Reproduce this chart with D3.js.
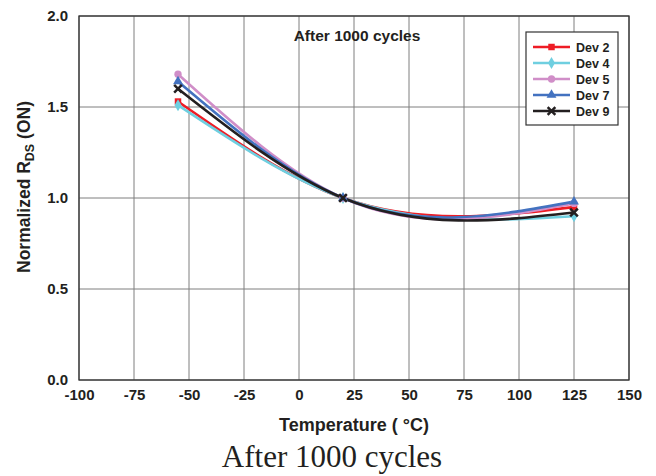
<!DOCTYPE html>
<html>
<head>
<meta charset="utf-8">
<script src="https://cdn.jsdelivr.net/npm/d3@7"></script>
<style>
  body { margin: 0; background: #fff; }
  text { font-family: 'Liberation Sans', Arial, sans-serif; }
  text.caption { font-family: 'Liberation Serif', 'Times New Roman', serif; }
</style>
</head>
<body>
<div id="chart"></div>
<script>
// Data
const temps = [-55, 20, 125];
const seriesNames = ['Dev 2', 'Dev 4', 'Dev 5', 'Dev 7', 'Dev 9'];
const dev2 = [1.53, 1.0, 0.95];
const dev4 = [1.51, 1.0, 0.90];
const dev5 = [1.68, 1.0, 0.97];
const dev7 = [1.64, 1.0, 0.98];
const dev9 = [1.60, 1.0, 0.92];
const xTicks = [-100, -75, -50, -25, 0, 25, 50, 75, 100, 125, 150];
const yTicks = [0, 0.5, 1.0, 1.5, 2.0];

const colors = ['#ee1c25', '#6fcfe0', '#d08ec8', '#4372c0', '#231f20'];
const markers = [d3.symbolSquare, d3.symbolDiamond, d3.symbolCircle, d3.symbolTriangle, d3.symbolX];
const values = [dev2, dev4, dev5, dev7, dev9];

const width = 656, height = 476;
const margin = { left: 79, right: 27, top: 16, bottom: 96 };
const iw = width - margin.left - margin.right;
const ih = height - margin.top - margin.bottom;

// smooth curve (natural spline with x as the parameter), like a spreadsheet smoothed line
function curveNaturalX(context) {
  let xs, ys;
  return {
    areaStart() {},
    areaEnd() {},
    lineStart() { xs = []; ys = []; },
    point(px, py) { xs.push(+px); ys.push(+py); },
    lineEnd() {
      const n = xs.length;
      if (!n) return;
      context.moveTo(xs[0], ys[0]);
      if (n === 2) { context.lineTo(xs[1], ys[1]); return; }
      const h = [];
      for (let i = 0; i < n - 1; i++) h[i] = xs[i + 1] - xs[i];
      const M = new Array(n).fill(0);
      const a = [], b = [], c = [], r = [];
      for (let i = 1; i < n - 1; i++) {
        a[i] = h[i - 1];
        b[i] = 2 * (h[i - 1] + h[i]);
        c[i] = h[i];
        r[i] = 6 * ((ys[i + 1] - ys[i]) / h[i] - (ys[i] - ys[i - 1]) / h[i - 1]);
      }
      for (let i = 2; i < n - 1; i++) {
        const w = a[i] / b[i - 1];
        b[i] -= w * c[i - 1];
        r[i] -= w * r[i - 1];
      }
      for (let i = n - 2; i >= 1; i--) {
        M[i] = (r[i] - c[i] * M[i + 1]) / b[i];
      }
      for (let i = 0; i < n - 1; i++) {
        const s = (ys[i + 1] - ys[i]) / h[i];
        const m0 = s - h[i] * (2 * M[i] + M[i + 1]) / 6;
        const m1 = s + h[i] * (M[i] + 2 * M[i + 1]) / 6;
        context.bezierCurveTo(
          xs[i] + h[i] / 3, ys[i] + m0 * h[i] / 3,
          xs[i + 1] - h[i] / 3, ys[i + 1] - m1 * h[i] / 3,
          xs[i + 1], ys[i + 1]);
      }
    }
  };
}

const svg = d3.select('#chart').append('svg')
  .attr('width', width)
  .attr('height', height);

const g = svg.append('g')
  .attr('transform', `translate(${margin.left},${margin.top})`);

const x = d3.scaleLinear().domain([-100, 150]).range([0, iw]);
const y = d3.scaleLinear().domain([0, 2]).range([ih, 0]);

// grid
g.append('g').selectAll('line')
  .data(xTicks)
  .join('line')
  .attr('x1', d => x(d)).attr('x2', d => x(d))
  .attr('y1', 0).attr('y2', ih)
  .attr('stroke', '#7f7f7f').attr('stroke-width', 1);

g.append('g').selectAll('line')
  .data(yTicks)
  .join('line')
  .attr('x1', 0).attr('x2', iw)
  .attr('y1', d => y(d)).attr('y2', d => y(d))
  .attr('stroke', '#7f7f7f').attr('stroke-width', 1);

// frame
g.append('rect')
  .attr('width', iw).attr('height', ih)
  .attr('fill', 'none')
  .attr('stroke', '#333').attr('stroke-width', 1.3);

// axes
const ax = d3.axisBottom(x).tickValues(xTicks).tickFormat(d => String(d)).tickSize(0).tickPadding(9);
const axCall = g.append('g').attr('transform', `translate(0,${ih})`).call(ax);
axCall.select('.domain').remove();
axCall.selectAll('text')
  .attr('font-size', '15px').attr('font-weight', 'bold').attr('fill', '#231f20');

const ay = d3.axisLeft(y).tickValues(yTicks).tickFormat(d3.format('.1f')).tickSize(0).tickPadding(11);
const ayCall = g.append('g').call(ay);
ayCall.select('.domain').remove();
ayCall.selectAll('text')
  .attr('font-size', '15px').attr('font-weight', 'bold').attr('fill', '#231f20');

// lines
const line = d3.line()
  .x((d, i) => x(temps[i]))
  .y(d => y(d))
  .curve(curveNaturalX);

values.forEach((vals, k) => {
  g.append('path')
    .attr('d', line(vals))
    .attr('fill', 'none')
    .attr('stroke', colors[k])
    .attr('stroke-width', 2.6);
});

values.forEach((vals, k) => {
  g.selectAll(null)
    .data(vals)
    .join('path')
    .attr('transform', (d, i) => `translate(${x(temps[i])},${y(d)})`)
    .attr('d', d3.symbol(markers[k], k === 4 ? 40 : 42))
    .attr('fill', colors[k])
    .attr('stroke', colors[k])
    .attr('stroke-width', k === 4 ? 2.5 : 0);
});

// inner title
g.append('text')
  .attr('x', 357 - margin.left).attr('y', 25)
  .attr('text-anchor', 'middle')
  .attr('font-size', '15.5px').attr('font-weight', 'bold')
  .attr('fill', '#231f20')
  .text('After 1000 cycles');

// legend
const lg = svg.append('g').attr('transform', 'translate(526,32)');
lg.append('rect')
  .attr('width', 92).attr('height', 93)
  .attr('fill', '#fff').attr('stroke', '#333').attr('stroke-width', 1.2);

seriesNames.forEach((name, k) => {
  const yy = 15 + k * 16;
  lg.append('line')
    .attr('x1', 7).attr('x2', 44)
    .attr('y1', yy).attr('y2', yy)
    .attr('stroke', colors[k]).attr('stroke-width', 2.6);
  lg.append('path')
    .attr('transform', `translate(25.5,${yy})`)
    .attr('d', d3.symbol(markers[k], k === 4 ? 40 : 42))
    .attr('fill', colors[k])
    .attr('stroke', colors[k])
    .attr('stroke-width', k === 4 ? 2.5 : 0);
  lg.append('text')
    .attr('x', 50).attr('y', yy + 4.5)
    .attr('font-size', '12.5px').attr('font-weight', 'bold')
    .attr('fill', '#231f20')
    .text(name);
});

// axis titles
svg.append('text')
  .attr('x', 354).attr('y', 431)
  .attr('text-anchor', 'middle')
  .attr('font-size', '18px').attr('font-weight', 'bold')
  .attr('fill', '#231f20')
  .text('Temperature ( °C)');

const yt = svg.append('text')
  .attr('transform', 'translate(30,187) rotate(-90)')
  .attr('text-anchor', 'middle')
  .attr('font-size', '17.5px').attr('font-weight', 'bold')
  .attr('fill', '#231f20');
yt.append('tspan').text('Normalized R');
yt.append('tspan').attr('font-size', '12.5px').attr('dy', 4).text('DS');
yt.append('tspan').attr('dy', -4).text(' (ON)');

svg.append('text')
  .attr('class', 'caption')
  .attr('x', 332).attr('y', 467)
  .attr('text-anchor', 'middle')
  .attr('font-size', '31px')
  .attr('fill', '#231f20')
  .text('After 1000 cycles');
</script>
</body>
</html>
